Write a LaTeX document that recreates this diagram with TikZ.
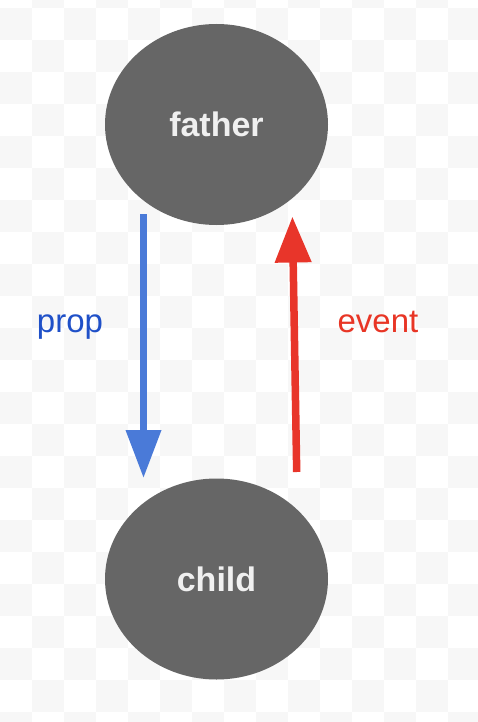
\documentclass[tikz,border=0pt]{standalone}
\usepackage{fontspec}
\setmainfont{Liberation Sans}
\usetikzlibrary{shapes.geometric,arrows.meta}
\definecolor{checkgray}{HTML}{F7F7F7}
\definecolor{nodegray}{HTML}{666666}
\definecolor{nodetext}{HTML}{F0F0F0}
\definecolor{propblue}{HTML}{4A7AD8}
\definecolor{proptext}{HTML}{1F50C8}
\definecolor{eventred}{HTML}{E8352A}
\definecolor{eventtext}{HTML}{E83525}
\tikzset{
  actor/.style={ellipse, fill=nodegray, draw=none, minimum width=223pt, minimum height=201pt, inner sep=0pt,
    text=nodetext, font=\fontsize{34}{40}\selectfont\bfseries},
  flowlabel/.style={anchor=base, font=\fontsize{33}{40}\selectfont},
  proparrow/.style={draw=propblue, line width=7pt, -{Triangle[length=48pt,width=34pt]}},
  eventarrow/.style={draw=eventred, line width=7.5pt, -{Triangle[length=46pt,width=35pt]}}
}
\begin{document}
\begin{tikzpicture}[x=1pt,y=-1pt]
\useasboundingbox (0,0) rectangle (478,722);
\fill[white] (0,0) rectangle (478,722);
\begin{scope}
\clip (0,0) rectangle (478,722);
\foreach \i in {0,...,14}{
  \foreach \r in {0,...,23}{
    \pgfmathtruncatemacro\s{mod(\i+\r,2)}
    \ifnum\s=1 \fill[checkgray] (32*\i,32*\r-24) rectangle ++(32,32); \fi
  }
}
\end{scope}
\node[actor] (father) at (216.5,124.5) {father};
\node[actor] (child) at (216.5,579) {child};
\coordinate (propstart) at (143.5,214);
\coordinate (propend) at (143.5,478);
\coordinate (eventstart) at (296.7,472);
\coordinate (eventend) at (292.4,216.5);
\draw[proparrow] (propstart) -- (propend);
\draw[eventarrow] (eventstart) -- (eventend);
\node[flowlabel, text=proptext] (proplabel) at (70,332) {prop};
\node[flowlabel, text=eventtext] (eventlabel) at (378,332) {event};
\end{tikzpicture}
\end{document}
